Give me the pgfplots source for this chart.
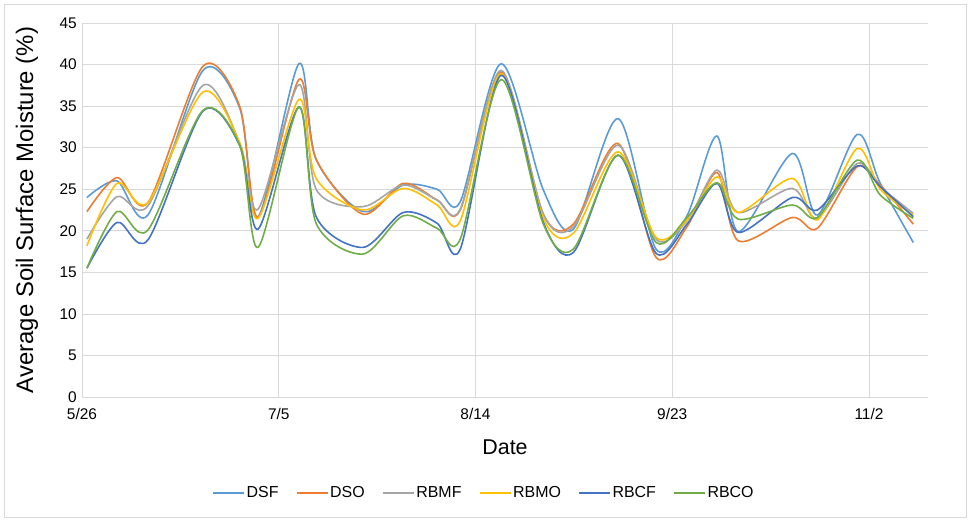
\documentclass[border=0pt]{standalone}
\usepackage{fontspec}
\setmainfont{Liberation Sans}
\usepackage{pgfplots}
\pgfplotsset{compat=1.18}
\usepackage{pgfplotstable}
\definecolor{cDSF}{HTML}{5B9BD5}
\definecolor{cDSO}{HTML}{ED7D31}
\definecolor{cRBMF}{HTML}{A5A5A5}
\definecolor{cRBMO}{HTML}{FFC000}
\definecolor{cRBCF}{HTML}{4472C4}
\definecolor{cRBCO}{HTML}{70AD47}
\definecolor{gridc}{HTML}{D9D9D9}

\pgfplotstableread{
day   DSF  DSO  RBMF RBMO RBCF RBCO
1.0   24.0 22.3 19.0 18.2 15.5 15.5
7.1   26.0 26.4 24.1 25.7 21.0 22.3
13.4  21.9 23.4 23.0 23.4 18.9 20.1
24.6  39.3 39.8 37.5 36.7 34.4 34.5
32.1  34.7 34.9 30.5 30.5 30.2 30.2
35.8  21.7 21.6 22.6 21.5 20.2 18.0
44.1  40.1 38.2 37.6 35.8 34.9 34.9
47.6  28.6 28.6 25.0 26.3 21.7 20.9
57.1  22.3 22.0 22.9 22.5 18.0 17.2
65.3  25.5 25.7 25.5 25.1 22.2 21.8
72.2  25.0 23.7 23.7 23.1 20.9 20.3
76.9  23.5 22.5 22.6 21.2 17.8 19.0
85.2  40.1 39.1 39.3 38.9 38.7 38.2
93.8  24.9 22.0 22.0 21.5 21.0 20.8
99.9  20.2 20.8 20.5 19.7 17.4 17.8
109.0 33.5 30.5 30.3 29.5 29.1 29.1
116.7 17.8 16.8 19.0 19.2 17.3 18.6
123.0 21.8 20.5 21.2 21.3 20.8 21.6
129.1 31.4 27.0 27.3 26.5 25.7 25.8
133.4 19.9 18.8 22.2 22.2 19.8 21.4
144.4 29.3 21.6 25.1 26.3 24.0 23.1
149.5 21.9 20.3 21.5 21.3 22.5 21.6
157.6 31.6 27.7 28.1 29.9 27.8 28.5
162.3 25.7 25.5 25.3 25.0 25.3 24.3
169.0 18.6 20.8 22.1 21.9 21.7 21.5
}\data

\begin{document}
\begin{tikzpicture}
\useasboundingbox (0,0) rectangle (972bp,522bp);
\draw[gridc, line width=0.75bp] (4.5bp,4.5bp) rectangle (966.5bp,517.5bp);
\begin{axis}[
  at={(82bp,125bp)}, anchor=south west,
  scale only axis, width=846bp, height=374bp,
  xmin=0, xmax=172, ymin=0, ymax=45,
  xtick={0,40,80,120,160},
  xticklabels={5/26,7/5,8/14,9/23,11/2},
  ytick={0,5,...,45},
  grid=major,
  major grid style={gridc, line width=0.75bp},
  axis line style={draw=none},
  major tick length=0pt,
  /pgf/number format/assume math mode=true,
  ticklabel style={font=\fontsize{15.5}{18}\selectfont, inner sep=0pt},
  yticklabel style={xshift=-5bp},
  xticklabel style={yshift=-11bp},
  xlabel={Date},
  ylabel={Average Soil Surface Moisture (\%)},
  xlabel style={font=\fontsize{21.5}{24}\selectfont, at={(axis description cs:0.5,-0.134)}, anchor=center},
  ylabel style={font=\fontsize{24}{26}\selectfont, at={(axis description cs:-0.065,0.5)}, anchor=center},
  legend columns=6,
  legend style={at={(axis description cs:0.475,-0.257)}, anchor=center,
    draw=none, fill=none, font=\fontsize{16}{18}\selectfont,
    /tikz/every even column/.append style={column sep=16bp},
    nodes={inner sep=1.5bp}},
  legend image code/.code={\draw[#1, line width=1.6bp] (0bp,0bp) -- (31bp,0bp);},
  every axis plot/.append style={line width=1.6bp, smooth, no markers},
]
\addplot[cDSF] table[x=day,y=DSF] {\data};
\addplot[cDSO] table[x=day,y=DSO] {\data};
\addplot[cRBMF] table[x=day,y=RBMF] {\data};
\addplot[cRBMO] table[x=day,y=RBMO] {\data};
\addplot[cRBCF] table[x=day,y=RBCF] {\data};
\addplot[cRBCO] table[x=day,y=RBCO] {\data};
\legend{DSF,DSO,RBMF,RBMO,RBCF,RBCO}
\end{axis}
\end{tikzpicture}
\end{document}
